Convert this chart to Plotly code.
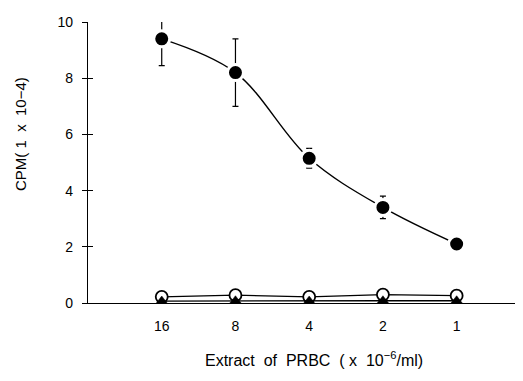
import plotly.graph_objects as go

categories = ["16", "8", "4", "2", "1"]
closed_circle = [9.4, 8.2, 5.15, 3.4, 2.1]
closed_err = [0.95, 1.2, 0.35, 0.4, 0.0]
open_circle = [0.22, 0.28, 0.22, 0.3, 0.26]
triangle = [0.07, 0.08, 0.07, 0.08, 0.08]
yticks = [0, 2, 4, 6, 8, 10]

xpos = list(range(len(categories)))
font = dict(family="Liberation Sans, Arial, sans-serif", size=14, color="black")
tfont = dict(family="Liberation Sans, Arial, sans-serif", size=15, color="black")

fig = go.Figure()
fig.add_trace(go.Scatter(
    x=xpos, y=open_circle, mode="lines+markers",
    line=dict(color="black", width=1.3),
    marker=dict(symbol="circle", size=12, color="white",
                line=dict(color="black", width=1.8)),
    cliponaxis=False, showlegend=False))
fig.add_trace(go.Scatter(
    x=xpos, y=triangle, mode="lines+markers",
    line=dict(color="black", width=1.3),
    marker=dict(symbol="triangle-up", size=10, color="black",
                line=dict(color="black", width=0.5)),
    cliponaxis=False, showlegend=False))
fig.add_trace(go.Scatter(
    x=xpos, y=closed_circle, mode="lines+markers",
    line=dict(color="black", width=1.4, shape="spline", smoothing=1.0),
    marker=dict(symbol="circle", size=16, color="black",
                line=dict(color="white", width=3)),
    error_y=dict(type="data", array=closed_err, color="black",
                 thickness=1.2, width=3),
    cliponaxis=False, showlegend=False))

fig.update_layout(
    width=515, height=373,
    margin=dict(l=80, r=0, t=14, b=78, autoexpand=False),
    paper_bgcolor="white", plot_bgcolor="white",
    font=font,
    xaxis=dict(range=[-1, 4.9], tickvals=xpos, ticktext=categories,
               showgrid=False, zeroline=False, showline=True,
               linecolor="black", linewidth=1.3, ticks="",
               tickfont=font, ticklabelstandoff=10),
    yaxis=dict(range=[0, 10], tickvals=yticks, showgrid=False,
               zeroline=False, showline=True, linecolor="black",
               linewidth=1.3, ticks="outside", ticklen=5,
               tickcolor="black", tickwidth=1.2, tickfont=font,
               ticklabelstandoff=6),
    yaxis2=dict(range=[0, 10], tickvals=yticks, overlaying="y",
                side="left", showgrid=False, zeroline=False,
                showticklabels=False, ticks="inside", ticklen=5,
                tickcolor="black", tickwidth=1.2),
)
fig.add_trace(go.Scatter(x=[None], y=[None], yaxis="y2", showlegend=False))

fig.add_annotation(text="CPM( 1  x  10−4)", xref="paper", yref="paper",
                   x=-0.155, y=0.6, textangle=-90, showarrow=False,
                   font=tfont, xanchor="center", yanchor="middle")
fig.add_annotation(text="Extract  of  PRBC  ( x  10<sup>−6</sup>/ml)",
                   xref="paper", yref="paper", x=0.52, y=-0.2,
                   showarrow=False,
                   font=dict(family="Liberation Sans, Arial, sans-serif",
                             size=16, color="black"),
                   xanchor="center", yanchor="middle")

fig.write_html("out.html")
